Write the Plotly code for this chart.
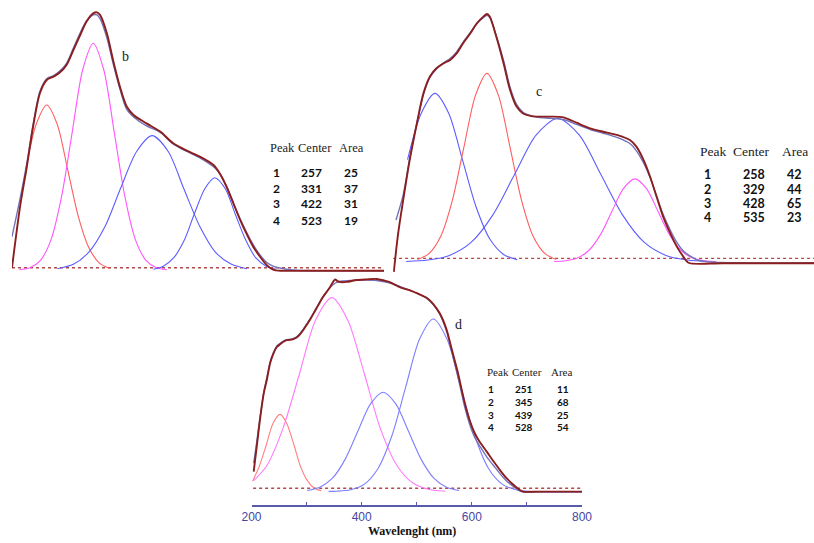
import plotly.graph_objects as go

# ---------------- Panel b ----------------
b_meas_x = [200, 213, 224, 234, 245, 256, 267, 277, 288, 299, 310, 320, 331, 337, 342, 353, 363, 374, 385, 396, 417, 439, 460, 482, 503, 525, 535, 546, 557, 568, 578, 589, 600, 611, 622, 632, 700, 800]
b_meas_y = [0.0, 0.239, 0.396, 0.552, 0.683, 0.735, 0.748, 0.764, 0.794, 0.852, 0.911, 0.963, 0.996, 1.0, 0.990, 0.918, 0.813, 0.709, 0.631, 0.598, 0.565, 0.533, 0.487, 0.458, 0.435, 0.402, 0.369, 0.317, 0.252, 0.187, 0.134, 0.082, 0.043, 0.010, -0.009, -0.012, -0.012, -0.012]
b_fit_x = [200, 213, 224, 234, 245, 256, 267, 277, 288, 299, 310, 320, 331, 337, 342, 353, 363, 374, 385, 396, 417, 439, 460, 482, 503, 525, 535, 546, 557, 568, 578, 589, 600, 611, 622, 640, 660, 800]
b_fit_y = [0.121, 0.27, 0.41, 0.56, 0.69, 0.74, 0.752, 0.77, 0.80, 0.86, 0.92, 0.965, 0.99, 0.99, 0.975, 0.90, 0.80, 0.70, 0.62, 0.59, 0.555, 0.53, 0.485, 0.455, 0.43, 0.395, 0.37, 0.32, 0.255, 0.19, 0.14, 0.09, 0.05, 0.02, 0.005, -0.005, -0.01, -0.012]
b_p1_x = [222, 239, 256, 273, 290, 307, 324, 341, 358]
b_p1_y = [0.382, 0.561, 0.637, 0.561, 0.382, 0.200, 0.078, 0.018, -0.003]
b_p2_x = [212, 229, 246, 263, 280, 297, 314, 331, 348, 365, 382, 399, 416, 433, 450]
b_p2_y = [-0.008, 0.0, 0.029, 0.110, 0.279, 0.529, 0.775, 0.879, 0.775, 0.529, 0.279, 0.110, 0.029, 0.0, -0.008]
b_p3_x = [273, 299, 324, 350, 375, 401, 426, 452, 477, 503, 528, 554, 579]
b_p3_y = [-0.004, 0.013, 0.061, 0.161, 0.310, 0.455, 0.517, 0.455, 0.310, 0.161, 0.061, 0.013, -0.004]
b_p4_x = [428, 444, 461, 478, 494, 511, 527, 544, 560, 577, 593, 610, 626]
b_p4_y = [-0.006, 0.006, 0.039, 0.108, 0.210, 0.309, 0.352, 0.309, 0.210, 0.108, 0.039, 0.006, -0.006]
b_peaks = ["1", "2", "3", "4"]
b_centers = ["257", "331", "422", "523"]
b_areas = ["25", "37", "31", "19"]

# ---------------- Panel c ----------------
c_meas_x = [201, 207, 214, 223, 233, 242, 251, 260, 270, 279, 288, 297, 307, 316, 325, 330, 334, 343, 353, 362, 371, 380, 390, 399, 417, 436, 454, 473, 491, 510, 528, 537, 547, 556, 565, 574, 584, 593, 602, 609, 657, 783]
c_meas_y = [-0.055, 0.102, 0.239, 0.402, 0.553, 0.675, 0.744, 0.778, 0.798, 0.812, 0.839, 0.880, 0.921, 0.962, 0.989, 1.0, 0.989, 0.907, 0.798, 0.689, 0.621, 0.593, 0.583, 0.580, 0.580, 0.577, 0.555, 0.532, 0.518, 0.505, 0.484, 0.457, 0.402, 0.334, 0.252, 0.171, 0.102, 0.048, 0.007, -0.018, -0.020, -0.020]
c_fit_x = [204, 214, 223, 233, 242, 251, 260, 270, 279, 288, 297, 307, 316, 325, 330, 334, 343, 353, 362, 371, 380, 390, 399, 417, 436, 454, 473, 491, 510, 528, 537, 547, 556, 565, 574, 584, 593, 602, 611, 620, 640, 783]
c_fit_y = [0.157, 0.26, 0.41, 0.555, 0.67, 0.74, 0.775, 0.80, 0.818, 0.845, 0.885, 0.925, 0.96, 0.985, 0.995, 0.985, 0.91, 0.81, 0.70, 0.63, 0.598, 0.585, 0.578, 0.573, 0.568, 0.548, 0.527, 0.512, 0.495, 0.47, 0.44, 0.39, 0.33, 0.255, 0.18, 0.115, 0.065, 0.03, 0.01, -0.005, -0.015, -0.018]
c_p1_x = [220, 239, 258, 277, 296, 315, 334, 353, 372]
c_p1_y = [0.404, 0.594, 0.675, 0.594, 0.404, 0.210, 0.079, 0.016, -0.006]
c_p2_x = [234, 250, 266, 282, 298, 314, 330, 346, 362, 378, 394, 410, 426]
c_p2_y = [-0.005, 0.020, 0.090, 0.236, 0.454, 0.666, 0.757, 0.666, 0.454, 0.236, 0.090, 0.020, -0.005]
c_p3_x = [218, 248, 278, 308, 338, 368, 398, 428, 458, 488, 518, 548, 578, 608, 638]
c_p3_y = [-0.013, -0.007, 0.012, 0.065, 0.177, 0.342, 0.504, 0.573, 0.504, 0.342, 0.177, 0.065, 0.012, -0.007, -0.013]
c_p4_x = [423, 439, 455, 471, 487, 503, 519, 535, 551, 567, 583, 599, 615, 631, 647]
c_p4_y = [-0.013, -0.010, 0.001, 0.032, 0.096, 0.192, 0.285, 0.325, 0.285, 0.192, 0.096, 0.032, 0.001, -0.010, -0.013]
c_peaks = ["1", "2", "3", "4"]
c_centers = ["258", "329", "428", "535"]
c_areas = ["42", "44", "65", "23"]

# ---------------- Panel d ----------------
d_meas_x = [204, 210, 215, 222, 228, 234, 240, 246, 252, 258, 264, 270, 276, 282, 288, 294, 300, 306, 312, 318, 324, 330, 337, 343, 349, 352, 356, 362, 373, 391, 409, 427, 445, 451, 470, 488, 506, 518, 530, 542, 554, 562, 568, 574, 580, 586, 592, 598, 604, 610, 616, 627, 639, 651, 663, 675, 687, 693, 720, 800]
d_meas_y = [0.08, 0.21, 0.32, 0.45, 0.52, 0.60, 0.645, 0.675, 0.688, 0.70, 0.708, 0.709, 0.713, 0.72, 0.735, 0.756, 0.78, 0.804, 0.832, 0.86, 0.888, 0.915, 0.94, 0.963, 0.99, 0.998, 0.99, 0.985, 0.986, 0.995, 0.998, 1.0, 0.99, 0.985, 0.96, 0.945, 0.925, 0.91, 0.88, 0.835, 0.76, 0.68, 0.62, 0.56, 0.49, 0.42, 0.36, 0.31, 0.27, 0.24, 0.215, 0.175, 0.13, 0.087, 0.048, 0.018, -0.008, -0.016, -0.016, -0.016]
d_fit_x = [204, 210, 215, 222, 228, 234, 240, 246, 252, 258, 264, 270, 276, 282, 288, 294, 300, 306, 312, 318, 324, 330, 337, 343, 349, 356, 365, 380, 400, 427, 450, 470, 488, 506, 518, 530, 542, 554, 562, 568, 574, 580, 586, 592, 598, 604, 610, 616, 627, 639, 651, 663, 675, 690, 720, 800]
d_fit_y = [0.12, 0.23, 0.33, 0.455, 0.53, 0.605, 0.65, 0.68, 0.693, 0.703, 0.71, 0.712, 0.716, 0.724, 0.74, 0.76, 0.784, 0.808, 0.835, 0.862, 0.89, 0.915, 0.94, 0.96, 0.975, 0.985, 0.99, 0.993, 0.995, 0.993, 0.982, 0.963, 0.945, 0.925, 0.907, 0.878, 0.83, 0.75, 0.67, 0.605, 0.54, 0.47, 0.40, 0.34, 0.29, 0.25, 0.22, 0.195, 0.15, 0.11, 0.07, 0.035, 0.01, -0.016, -0.018, -0.018]
d_p1_x = [202, 214, 227, 239, 252, 264, 277, 289, 302, 314, 327]
d_p1_y = [0.034, 0.104, 0.208, 0.310, 0.353, 0.310, 0.208, 0.104, 0.034, 0.0, -0.012]
d_p2_x = [204, 228, 257, 287, 316, 346, 375, 405, 434, 464, 493, 523, 552]
d_p2_y = [0.037, 0.109, 0.285, 0.546, 0.802, 0.911, 0.802, 0.546, 0.285, 0.109, 0.025, -0.006, -0.014]
d_p3_x = [301, 324, 347, 370, 393, 416, 439, 462, 485, 508, 531, 554, 577]
d_p3_y = [-0.011, 0.005, 0.048, 0.138, 0.272, 0.403, 0.459, 0.403, 0.272, 0.138, 0.048, 0.005, -0.011]
d_p4_x = [340, 355, 380, 405, 430, 455, 480, 505, 530, 555, 580, 605, 630, 655, 680, 705]
d_p4_y = [-0.015, -0.014, -0.007, 0.020, 0.096, 0.252, 0.484, 0.712, 0.809, 0.712, 0.484, 0.252, 0.096, 0.020, -0.007, -0.014]
d_peaks = ["1", "2", "3", "4"]
d_centers = ["251", "345", "439", "528"]
d_areas = ["11", "68", "25", "54"]

x_ticks = [200, 400, 600, 800]
x_minor_ticks = [300, 500, 700]
x_title = "Wavelenght (nm)"

W, H = 814, 543
def px(x):
    return x / W
def py(y):
    return 1 - y / H

MEAS = "#8B1E1E"
FIT = "#7272B8"
RED = "#FF5C5C"
PINK = "#FF55FF"
BLUE = "#5C5CFF"

fig = go.Figure()

def line(x, y, color, width, xa, ya, dash=None, spline=True):
    fig.add_trace(go.Scatter(
        x=x, y=y, mode="lines", xaxis=xa, yaxis=ya, hoverinfo="skip",
        line=dict(color=color, width=width, dash=dash,
                  shape="spline" if spline else "linear", smoothing=0.8)))

panels = [
    ("x", "y", [b_meas_x[0], b_meas_x[-1]], b_meas_x, b_meas_y, b_fit_x, b_fit_y,
     [(b_p1_x, b_p1_y, RED), (b_p2_x, b_p2_y, PINK), (b_p3_x, b_p3_y, BLUE), (b_p4_x, b_p4_y, BLUE)]),
    ("x2", "y2", [c_meas_x[0] - 1, c_meas_x[-1]], c_meas_x, c_meas_y, c_fit_x, c_fit_y,
     [(c_p1_x, c_p1_y, BLUE), (c_p2_x, c_p2_y, RED), (c_p3_x, c_p3_y, BLUE), (c_p4_x, c_p4_y, PINK)]),
    ("x3", "y3", [d_meas_x[0] - 1, d_meas_x[-1]], d_meas_x, d_meas_y, d_fit_x, d_fit_y,
     [(d_p1_x, d_p1_y, "#FF8080"), (d_p2_x, d_p2_y, "#FF7AFF"), (d_p3_x, d_p3_y, "#7E7EFF"), (d_p4_x, d_p4_y, "#7E7EFF")]),
]

for xa, ya, bx, mx, my, fx, fy, comps in panels:
    line(bx, [0, 0], "#B04A4A", 1.4, xa, ya, dash="dot", spline=False)
    for cx, cy, col in comps:
        line(cx, cy, col, 1.1, xa, ya)
    line(fx, fy, FIT, 1.4, xa, ya)
    line(mx, my, MEAS, 1.9, xa, ya)

AX = "#5A5AAA"
fig.update_layout(
    width=W, height=H, margin=dict(l=0, r=0, t=0, b=0, autoexpand=False),
    paper_bgcolor="white", plot_bgcolor="rgba(0,0,0,0)", showlegend=False,
    xaxis=dict(domain=[px(12), px(384)], range=[200, 800], visible=False, anchor="y", automargin=False),
    yaxis=dict(domain=[py(283), py(2.1)], range=[-0.06, 1.04], visible=False, anchor="x", automargin=False),
    xaxis2=dict(domain=[px(393.1), 1.0], range=[200, 783], visible=False, anchor="y2", automargin=False),
    yaxis2=dict(domain=[py(273), py(4.2)], range=[-0.06, 1.04], visible=False, anchor="x2", automargin=False),
    xaxis3=dict(domain=[px(251.5), px(582)], range=[200, 800], anchor="free", position=py(506),
                automargin=False,
                showline=True, linecolor=AX, linewidth=1.5, showgrid=False, zeroline=False,
                ticks="inside", ticklen=3, tickcolor=AX, tickvals=x_ticks,
                minor=dict(tickvals=x_minor_ticks, ticks="inside", ticklen=3, tickcolor=AX),
                tickfont=dict(family="Liberation Sans Narrow, Liberation Sans, sans-serif", size=12, color="#4646A0")),
    yaxis3=dict(domain=[py(509.2), py(268.5)], range=[-0.1, 1.05], visible=False, anchor="x3", automargin=False),
)

HEAD = dict(family="Liberation Serif, serif", color="#222222")
ROW = dict(family="Liberation Sans Narrow, Lato, sans-serif", color="#111111")

def ann(x, y, text, font, xanchor="center"):
    fig.add_annotation(x=px(x), y=py(y), xref="paper", yref="paper", text=text, showarrow=False,
                       font=font, xanchor=xanchor, yanchor="middle")

def table(hx, hy, hsize, rows_y, col_x, rsize, peaks, centers, areas, area_anchor="center", center_anchor="center"):
    for t, x in zip(["Peak", "Center", "Area"], hx):
        ann(x, hy, t, dict(HEAD, size=hsize))
    for i, yv in enumerate(rows_y):
        ann(col_x[0], yv, "<b>%s</b>" % peaks[i], dict(ROW, size=rsize))
        ann(col_x[1], yv, "<b>%s</b>" % centers[i], dict(ROW, size=rsize), xanchor=center_anchor)
        ann(col_x[2], yv, "<b>%s</b>" % areas[i], dict(ROW, size=rsize), xanchor=area_anchor)

table([282, 315, 351], 148, 12.5, [172, 188, 204, 221], [276, 311.5, 360], 12, b_peaks, b_centers, b_areas, area_anchor="right")
table([712.5, 750.5, 795], 151, 13.5, [174, 189, 203, 217], [707, 753.5, 804], 12.5, c_peaks, c_centers, c_areas, area_anchor="right")
table([497.5, 527, 561.5], 372, 11, [389, 402, 414.5, 427], [491, 535, 571], 10, d_peaks, d_centers, d_areas, area_anchor="right", center_anchor="right")

ann(125, 57, "b", dict(family="Liberation Serif, serif", size=14, color="#222222"))
ann(539, 91, "c", dict(family="Liberation Serif, serif", size=14, color="#222222"))
ann(458, 324, "d", dict(family="Liberation Serif, serif", size=14, color="#222222"))
ann(411.7, 531, "<b>%s</b>" % x_title, dict(family="Liberation Serif, serif", size=12, color="#111111"))

fig.write_html("out.html")
